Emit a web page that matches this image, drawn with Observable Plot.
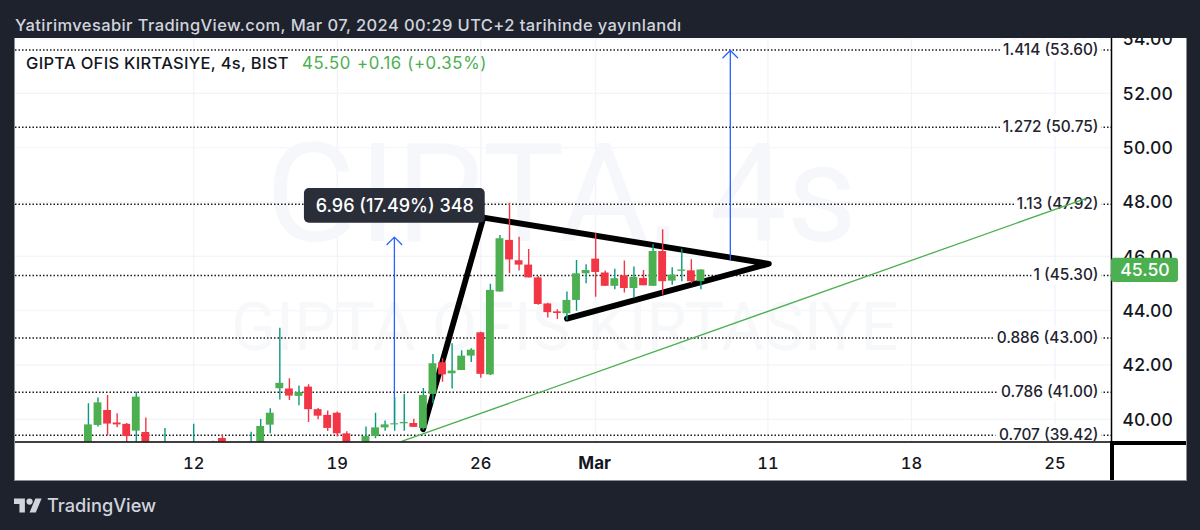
<!DOCTYPE html>
<html>
<head>
<meta charset="utf-8">
<script src="https://cdn.jsdelivr.net/npm/d3@7"></script>
<script src="https://cdn.jsdelivr.net/npm/@observablehq/plot@0.6"></script>
<style>
html,body{margin:0;padding:0;background:#1e222d;width:1200px;height:530px;overflow:hidden;font-family:Inter,"Noto Sans",sans-serif}
#panel{position:absolute;left:15px;top:38px;width:1171px;height:442px;background:#fff;z-index:0;box-shadow:0 0 0 1px #8a8d96}
#chart{position:absolute;left:0;top:0;z-index:1}
#head{position:absolute;left:0;top:0;width:1200px;height:38px;background:#1e222d;z-index:2;color:#d1d4dc;font-size:16.5px;font-weight:500;line-height:18px;box-sizing:border-box;padding:16px 0 0 15px;letter-spacing:.4px;white-space:nowrap}
#legend{position:absolute;left:26px;top:54px;z-index:2;font-size:16.5px;font-weight:500;white-space:nowrap;color:#131722;line-height:18px;letter-spacing:.3px}
#legend span{position:absolute;top:0;color:#4caf50;font-weight:400;font-size:16.8px;letter-spacing:.6px}
.bar{position:absolute;background:#000;z-index:2}
#foot{position:absolute;left:14px;top:494px;z-index:2;color:#d1d4dc;font-size:18.2px;font-weight:500;line-height:22px;white-space:nowrap}
#foot svg{position:absolute;left:0;top:3.5px}
#foot b{font-weight:500;margin-left:33px}
</style>
</head>
<body>
<div id="panel"></div>
<div id="chart"></div>
<div id="head">Yatirimvesabir TradingView.com, Mar 07, 2024 00:29 UTC+2 tarihinde yayınlandı</div>
<div id="legend">GIPTA OFIS KIRTASIYE, 4s, BIST<span style="left:276px">45.50</span><span style="left:331px">+0.16 (+0.35%)</span></div>
<div class="bar" style="left:1110px;top:441px;width:76px;height:4px"></div>
<div class="bar" style="left:1110px;top:441px;width:4px;height:39px"></div>
<div id="foot"><svg width="28" height="15" viewBox="0 4 36 18" fill="#d1d4dc"><path d="M14 22H7V11H0V4h14v18zM28 22h-8l7.5-18h8L28 22z"/><circle cx="20" cy="8" r="4"/></svg><b>TradingView</b></div>
<script>
// Bar index: three 4-hour bars per trading day; 0 = Feb 12
const barIndex = [-11,-10,-9,-8,-7,-6,-5,-3,0,2,3,6,7,8,9,10,11,12,13,14,15,16,18,19,20,21,22,23,24,25,26,27,28,29,30,31,32,33,34,35,36,37,38,39,40,41,42,43,44,45,46,47,48,49,50,51,52,53];
const opens  = [39.0,39.78,40.33,39.87,39.82,39.57,39.52,38.9,38.9,38.9,39.3,38.9,39.1,39.79,41.13,41.12,40.85,41.19,40.36,40.15,40.23,39.47,39.0,39.37,39.69,39.80,39.84,39.85,39.66,40.92,42.09,41.68,41.80,42.33,43.19,41.64,44.69,46.59,45.84,45.68,45.21,44.25,43.96,43.89,44.38,45.36,45.90,45.39,44.90,45.29,44.82,45.19,44.90,46.18,45.09,45.45,45.47,45.07];
const highs  = [40.58,40.79,40.88,40.21,39.85,41.0,40.05,39.67,39.82,39.2,39.42,39.53,40.0,40.39,43.36,41.50,41.23,41.28,40.40,40.31,40.27,39.55,39.72,40.23,39.94,40.8,40.92,40.01,41.14,42.39,42.23,42.79,42.53,42.60,43.21,44.98,46.77,47.96,46.71,46.25,45.26,44.28,44.04,44.69,45.85,45.69,46.83,45.46,45.53,45.83,45.61,45.48,46.44,46.98,45.58,46.26,45.88,45.51];
const lows   = [38.9,39.72,39.41,39.69,39.1,39.1,39.1,38.9,38.9,38.9,38.9,38.9,39.0,39.47,40.72,40.70,40.50,39.89,39.99,39.56,39.35,39.0,38.9,39.29,39.57,39.57,39.57,39.70,39.60,40.58,41.37,41.12,41.80,42.10,41.52,41.62,44.69,45.36,45.46,45.21,44.20,43.73,43.68,43.64,43.98,44.99,44.50,44.90,44.77,44.65,44.45,44.92,44.90,44.58,44.94,45.07,44.99,44.77];
const closes = [39.80,40.61,39.83,39.80,39.37,40.82,39.1,39.0,39.0,39.0,39.0,39.0,39.74,40.23,41.33,40.86,40.99,40.36,40.12,39.67,39.47,39.1,39.37,39.69,39.80,39.84,39.89,39.71,40.88,42.05,41.64,41.78,42.33,42.55,41.66,44.75,46.65,45.87,45.68,45.21,44.23,43.93,43.90,44.38,45.36,45.48,45.41,44.90,45.18,44.82,45.23,44.92,46.18,45.07,45.31,45.50,45.07,45.50];

const fibPrices = [53.60,50.75,47.92,45.30,43.00,41.00,39.42];
const fibLabels = ["1.414 (53.60)","1.272 (50.75)","1.13 (47.92)","1 (45.30)","0.886 (43.00)","0.786 (41.00)","0.707 (39.42)"];
const yTicks = [40,42,44,46,48,50,52,54];
const xTicks = [0,15,30,60,75,90];
const xTickLabels = ["12","19","26","11","18","25"];
const monthTick = [42];
const monthLabel = ["Mar"];

const patternX = [23.97,30.27,60.1,39];
const patternY = [39.64,47.43,45.73,43.71];
const arrowX = [20.97,56.07];
const arrowFrom = [39.85,45.89];
const arrowTo = [46.71,53.58];
const trendX = [21.8,93.2];
const trendY = [39.2,48.13];
const measureText = ["6.96 (17.49%) 348"];
const measureBox = {x1:11.57,x2:30.46,y1:47.22,y2:48.50};
const lastPrice = [45.50];
const priceBox = {x1:95.9,x2:102.9,y1:45.04,y2:45.93};
const xDomain = [-18.62,95.9];
const yDomain = [39.17,54.02];

const GREEN="#4caf50", RED="#f23645", TEAL="#089981", BLUE="#2962ff";
const candles = barIndex.map((x,k)=>({x,o:opens[k],h:highs[k],l:lows[k],c:closes[k]}));
const up = candles.filter(d=>d.c>=d.o), down = candles.filter(d=>d.c<d.o);
const body = {x1:d=>d.x-0.41,x2:d=>d.x+0.41,y1:"o",y2:"c",clip:true};
const wick = {x:"x",y1:"l",y2:"h",strokeWidth:1.4,clip:true};
const fib = fibPrices.map((y,k)=>({y,t:fibLabels[k]}));

const plot = Plot.plot({
  width:1200,height:530,
  marginLeft:15,marginRight:89,marginTop:38,marginBottom:88.5,
  style:{background:"transparent",overflow:"visible",fontFamily:"Inter,'Noto Sans',sans-serif"},
  x:{domain:xDomain,axis:null},
  y:{domain:yDomain,axis:null},
  marks:[
    Plot.ruleY(yTicks,{stroke:"#f3f4f8",strokeWidth:1.2,clip:true}),
    Plot.ruleX(xTicks.concat(monthTick),{stroke:"#f1f3fa",strokeWidth:1.2}),
    Plot.text(["GIPTA, 4s"],{frameAnchor:"middle",dy:-43,dx:-2,fontFamily:"Roboto",fontSize:137,fontWeight:400,fill:"#f6f7fa"}),
    Plot.text(["GIPTA OFIS KIRTASIYE"],{frameAnchor:"middle",dy:89,dx:1,fontFamily:"Roboto",fontSize:66,fontWeight:400,fill:"#f7f8fa"}),
    Plot.ruleY(fibPrices,{stroke:"#1a1a1a",strokeWidth:1.5,strokeDasharray:"1.5 2"}),
    Plot.text(fib,{x:xDomain[1],y:"y",text:"t",textAnchor:"end",dx:-13,fontSize:15.4,fontWeight:500,fill:"#1f2430",stroke:"#fff",strokeWidth:9,paintOrder:"stroke",clip:true}),
    Plot.line(trendX.map((x,k)=>({x,y:trendY[k]})),{x:"x",y:"y",stroke:GREEN,strokeWidth:1.3}),
    Plot.line(patternX.map((x,k)=>({x,y:patternY[k]})),{x:"x",y:"y",stroke:"#000",strokeWidth:5.8,strokeLinecap:"round",strokeLinejoin:"round",clip:true}),
    Plot.arrow(arrowX.map((x,k)=>({x,a:arrowFrom[k],b:arrowTo[k]})),{x:"x",y1:"a",y2:"b",stroke:BLUE,strokeWidth:1.3,bend:0,headLength:12,headAngle:90}),
    Plot.ruleX(up,{...wick,stroke:TEAL}),
    Plot.ruleX(down,{...wick,stroke:RED}),
    Plot.rect(up,{...body,fill:GREEN}),
    Plot.rect(down,{...body,fill:RED}),
    Plot.rect([measureBox],{x1:"x1",x2:"x2",y1:"y1",y2:"y2",fill:"#2a2e39",rx:5}),
    Plot.text(measureText,{x:(measureBox.x1+measureBox.x2)/2,y:(measureBox.y1+measureBox.y2)/2,fill:"#fff",fontSize:18,fontWeight:500}),
    Plot.ruleX([xDomain[1]],{stroke:"#000",strokeWidth:1.5}),
    Plot.ruleY([yDomain[0]],{stroke:"#000",strokeWidth:1.5}),
    Plot.axisY(yTicks,{anchor:"right",tickSize:0,tickPadding:11,dy:0.7,tickFormat:d3.format(".2f"),fontSize:17.6,fontWeight:500,fill:"#131722",label:null}),
    Plot.rect([priceBox],{x1:"x1",x2:"x2",y1:"y1",y2:"y2",fill:GREEN,rx:3}),
    Plot.text(lastPrice,{x:(priceBox.x1+priceBox.x2)/2,y:(priceBox.y1+priceBox.y2)/2,text:d=>d.toFixed(2),fill:"#fff",fontSize:17.6,fontWeight:500}),
    Plot.axisX(xTicks,{anchor:"bottom",tickSize:0,tickPadding:15,tickFormat:d=>xTickLabels[xTicks.indexOf(d)],fontSize:16.5,fontWeight:500,fill:"#131722",label:null}),
    Plot.axisX(monthTick,{anchor:"bottom",tickSize:0,tickPadding:15,dx:-1,tickFormat:d=>monthLabel[monthTick.indexOf(d)],fontSize:17,fontWeight:700,fill:"#131722",label:null})
  ]
});
document.getElementById("chart").append(plot);
</script>
</body>
</html>
